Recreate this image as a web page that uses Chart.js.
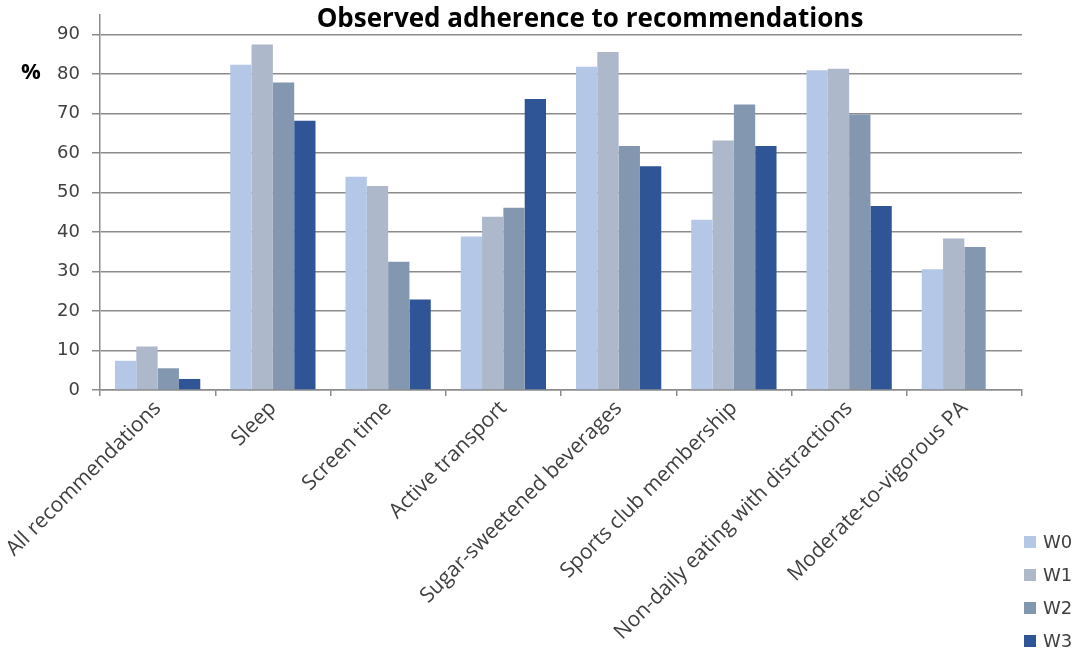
<!DOCTYPE html>
<html>
<head>
<meta charset="utf-8">
<title>Observed adherence to recommendations</title>
<script src="https://cdn.jsdelivr.net/npm/chart.js@4.4.1/dist/chart.umd.min.js"></script>
<style>
    html, body { margin: 0; padding: 0; background: #fff; }
    #chart-wrap { position: relative; width: 1079px; height: 655px; }
</style>
</head>
<body>
<div id="chart-wrap"><canvas id="adherence-chart"></canvas></div>
<script>
// Share of children meeting each recommendation, by wave (%)
const categories = [
    'All recommendations',
    'Sleep',
    'Screen time',
    'Active transport',
    'Sugar-sweetened beverages',
    'Sports club membership',
    'Non-daily eating with distractions',
    'Moderate-to-vigorous PA'
];
const waveLabels = ['W0', 'W1', 'W2', 'W3'];
const w0 = [7.4, 82.4, 54.0, 38.9, 81.9, 43.1, 81.0, 30.6];
const w1 = [11.0, 87.5, 51.7, 43.9, 85.6, 63.2, 81.4, 38.4];
const w2 = [5.5, 77.9, 32.5, 46.2, 61.8, 72.3, 69.8, 36.2];
const w3 = [2.8, 68.2, 22.9, 73.7, 56.7, 61.8, 46.6, null];
const yTicks = [0, 10, 20, 30, 40, 50, 60, 70, 80, 90];

const chartTitle = 'Observed adherence to recommendations';
const yUnit = '%';

const waveColors = ['#b4c7e7', '#adb9ca', '#8497b0', '#2f5597'];
const axisGrey = '#8c8c8c';
const textGrey = '#404040';

// Title and unit label sit over the plot, so draw them on top
const overlayText = {
    id: 'overlayText',
    afterDraw(chart) {
        const { ctx } = chart;
        ctx.save();
        ctx.fillStyle = '#000';
        ctx.textBaseline = 'middle';
        ctx.textAlign = 'center';
        ctx.font = 'bold 26px "Open Sans"';
        ctx.fillText(chartTitle, 590, 20);
        ctx.font = 'bold 22px "Open Sans"';
        ctx.fillText(yUnit, 31, 73);
        ctx.restore();
    }
};

// Legend stacked in the bottom-right corner, next to the last category
const sideLegend = {
    id: 'sideLegend',
    afterDraw(chart) {
        const { ctx } = chart;
        const boxX = chart.chartArea.right + 2;
        ctx.save();
        ctx.font = '18px "DejaVu Sans"';
        ctx.textBaseline = 'middle';
        ctx.textAlign = 'left';
        chart.data.datasets.forEach((ds, i) => {
            const y = 542 + i * 33;
            ctx.fillStyle = ds.backgroundColor;
            ctx.fillRect(boxX, y - 6, 12, 12);
            ctx.fillStyle = textGrey;
            ctx.fillText(ds.label, boxX + 19, y + 1);
        });
        ctx.restore();
    }
};

const ctx = document.getElementById('adherence-chart').getContext('2d');
const seriesData = [w0, w1, w2, w3];

new Chart(ctx, {
    type: 'bar',
    data: {
        labels: categories,
        datasets: waveLabels.map((label, i) => ({
            label: label,
            data: seriesData[i],
            backgroundColor: waveColors[i],
            borderWidth: 0,
            categoryPercentage: 0.74,
            barPercentage: 1.0
        }))
    },
    options: {
        responsive: true,
        maintainAspectRatio: false,
        animation: false,
        layout: {
            padding: { top: 15, right: 57, bottom: 0, left: 0 }
        },
        plugins: {
            title: { display: false },
            tooltip: { enabled: false },
            legend: { display: false }
        },
        scales: {
            x: {
                offset: true,
                grid: {
                    offset: true,
                    drawOnChartArea: false,
                    tickLength: 6,
                    color: axisGrey,
                    lineWidth: 1.5
                },
                border: { color: axisGrey, width: 1.5 },
                ticks: {
                    color: textGrey,
                    font: { family: 'Open Sans', size: 21 },
                    autoSkip: false,
                    minRotation: 45,
                    maxRotation: 45,
                    padding: 0
                },
                afterFit: (scale) => { scale.height = 265; }
            },
            y: {
                min: 0,
                max: 95,
                ticks: {
                    stepSize: 10,
                    color: textGrey,
                    font: { family: 'DejaVu Sans', size: 18 },
                    padding: 12
                },
                afterBuildTicks: (scale) => {
                    scale.ticks = yTicks.map(v => ({ value: v }));
                },
                grid: {
                    color: axisGrey,
                    lineWidth: 1.5,
                    tickLength: 8
                },
                border: { color: axisGrey, width: 1.5 },
                afterFit: (scale) => {
                    scale.width = 100;
                    // axis runs up to the layout padding, not the label height
                    scale.paddingTop = 0;
                    scale.paddingBottom = 0;
                }
            }
        }
    },
    plugins: [overlayText, sideLegend]
});
</script>
</body>
</html>
